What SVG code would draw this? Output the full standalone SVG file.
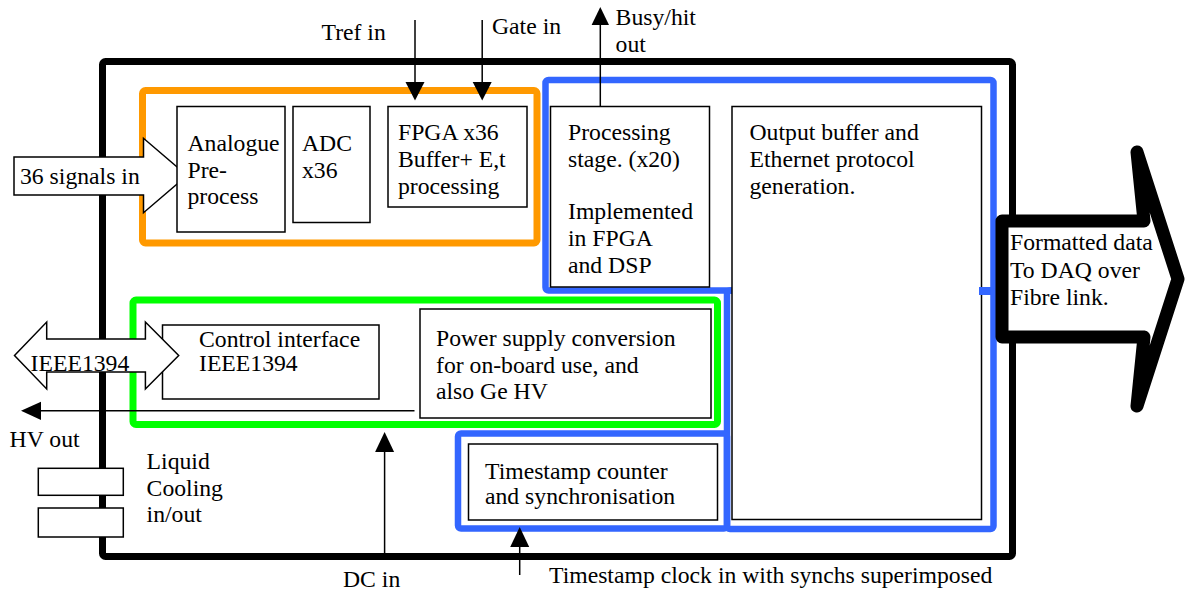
<svg xmlns="http://www.w3.org/2000/svg" width="1188" height="592" viewBox="0 0 1188 592">
<style>
text{font-family:"Liberation Serif","Times New Roman",serif;font-size:23.7px;fill:#000}
.box{fill:#fff;stroke:#000;stroke-width:1.5}
.ln{stroke:#000;stroke-width:1.5;fill:none}
.ah{fill:#000;stroke:none}
.blue{fill:none;stroke:#3366FF;stroke-width:6.5}
</style>
<rect width="1188" height="592" fill="#fff"/>
<g id="frame"><rect x="102.5" y="61.5" width="910" height="495" rx="3" fill="none" stroke="#000" stroke-width="7"/></g>
<g id="groups">
<rect x="142.5" y="90.5" width="394.5" height="152.5" rx="3" fill="none" stroke="#FF9900" stroke-width="7"/>
<rect x="133" y="300" width="584.5" height="124.5" rx="3" fill="none" stroke="#00FF00" stroke-width="7"/>
<rect class="blue" x="545.5" y="80" width="448" height="210.5" rx="3"/>
<rect class="blue" x="727" y="290.5" width="266.5" height="238.5" rx="3"/>
<rect class="blue" x="458" y="433.5" width="269" height="95" rx="3"/>
</g>
<g id="signals-in"><polygon class="box" points="14,157 143.5,157 143.5,138.3 187,175.5 143.5,212.7 143.5,195 14,195"/><text x="20" y="183.5">36 signals in</text></g>
<g id="analogue"><rect class="box" x="177" y="106.5" width="108" height="125.5"/><text x="187.5" y="151">Analogue</text><text x="187.5" y="177.5">Pre-</text><text x="187.5" y="204">process</text></g>
<g id="adc"><rect class="box" x="293" y="106.5" width="77" height="116"/><text x="302" y="150.5">ADC</text><text x="302" y="177.5">x36</text></g>
<g id="fpga"><rect class="box" x="388" y="106.5" width="139" height="100.5"/><text x="398" y="140">FPGA x36</text><text x="398" y="167">Buffer+ E,t</text><text x="398" y="193.5">processing</text></g>
<g id="processing"><rect class="box" x="550.5" y="106.5" width="159" height="180.5"/><text x="568" y="140">Processing</text><text x="568" y="167">stage. (x20)</text><text x="568" y="218.5">Implemented</text><text x="568" y="246">in FPGA</text><text x="568" y="272.5">and DSP</text></g>
<g id="output"><rect class="box" x="732" y="106.5" width="249.5" height="413"/><rect x="979" y="287" width="15" height="8" fill="#3366FF"/><text x="749.5" y="140">Output buffer and</text><text x="749.5" y="167">Ethernet protocol</text><text x="749.5" y="193.5">generation.</text></g>
<g id="control"><rect class="box" x="162.5" y="325" width="216.5" height="74"/><text x="199" y="347">Control interface</text><text x="199" y="371">IEEE1394</text></g>
<g id="ieee-arrow"><polygon class="box" points="14.5,355.5 46.7,322 46.7,339 145.4,339 145.4,322 178.7,355.5 145.4,389 145.4,372 46.7,372 46.7,389"/><text x="30.6" y="370.5">IEEE1394</text></g>
<g id="power"><rect class="box" x="420" y="309" width="291" height="109"/><text x="436" y="346">Power supply conversion</text><text x="436" y="372.5">for on-board use, and</text><text x="436" y="399">also Ge HV</text></g>
<g id="timestamp"><rect class="box" x="468.5" y="444" width="249" height="76"/><text x="485" y="479">Timestamp counter</text><text x="485" y="504">and synchronisation</text></g>
<g id="cooling"><rect class="box" x="38.3" y="468.3" width="85" height="27"/><rect class="box" x="38.3" y="508" width="85" height="29"/><text x="146.6" y="469">Liquid</text><text x="146.6" y="496">Cooling</text><text x="146.6" y="521.5">in/out</text></g>
<g id="fibre-out"><path d="M1002,221 L1144,221 L1137,152 L1178,279 L1137,406 L1144,337 L1002,337 Z" fill="#fff" stroke="#000" stroke-width="13" stroke-linejoin="round"/><text x="1010" y="250">Formatted data</text><text x="1010" y="277.5">To DAQ over</text><text x="1010" y="304.5">Fibre link.</text></g>
<g id="connectors">
<line class="ln" x1="415" y1="20" x2="415" y2="84"/><polygon class="ah" points="405.5,82 424.5,82 415,100.5"/>
<line class="ln" x1="482.2" y1="20" x2="482.2" y2="84"/><polygon class="ah" points="472.7,82 491.7,82 482.2,100.5"/>
<line class="ln" x1="600.3" y1="106.5" x2="600.3" y2="22"/><polygon class="ah" points="591.6,25 609,25 600.3,7"/>
<line class="ln" x1="414.5" y1="410.7" x2="38" y2="410.7"/><polygon class="ah" points="21,410.7 41,401.7 41,420"/>
<line class="ln" x1="384.6" y1="556" x2="384.6" y2="449"/><polygon class="ah" points="375.1,452 394.1,452 384.6,432"/>
<line class="ln" x1="519.7" y1="575" x2="519.7" y2="544"/><polygon class="ah" points="510.2,547 529.2,547 519.7,527"/>
</g>
<g id="labels">
<text x="321.5" y="40">Tref in</text>
<text x="492" y="34">Gate in</text>
<text x="615.6" y="25">Busy/hit</text><text x="615.6" y="51.5">out</text>
<text x="9.6" y="447.3">HV out</text>
<text x="343" y="587">DC in</text>
<text x="549" y="583">Timestamp clock in with synchs superimposed</text>
</g>
</svg>
